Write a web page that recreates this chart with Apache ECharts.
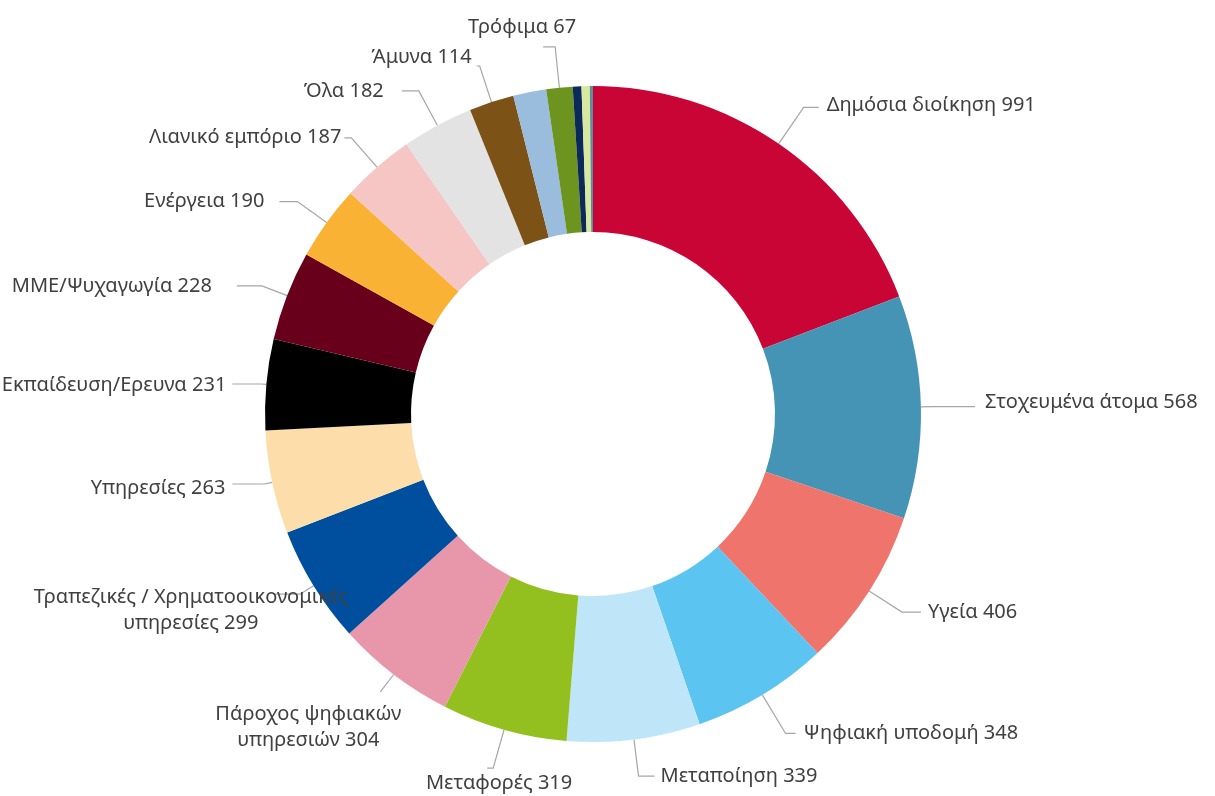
<!DOCTYPE html>
<html>
<head>
<meta charset="utf-8">
<title>Κατανομή ανά τομέα</title>
<script src="https://cdn.jsdelivr.net/npm/echarts@6/dist/echarts.min.js"></script>
<style>
  html, body { margin: 0; padding: 0; background: #ffffff; }
  #chart { width: 1215px; height: 796px; }
</style>
</head>
<body>
<div id="chart"></div>
<script>
// Sector names, clockwise from 12 o'clock. Empty names are the thin unlabelled slivers.
const categories = [
  'Δημόσια διοίκηση',
  'Στοχευμένα άτομα',
  'Υγεία',
  'Ψηφιακή υποδομή',
  'Μεταποίηση',
  'Μεταφορές',
  'Πάροχος ψηφιακών\nυπηρεσιών',
  'Τραπεζικές / Χρηματοοικονομικές\nυπηρεσίες',
  'Υπηρεσίες',
  'Εκπαίδευση/Ερευνα',
  'ΜΜΕ/Ψυχαγωγία',
  'Ενέργεια',
  'Λιανικό εμπόριο',
  'Όλα',
  'Άμυνα',
  '',
  'Τρόφιμα',
  '',
  '',
  ''
];

// Counts per sector
const values = [991, 568, 406, 348, 339, 319, 304, 299, 263, 231, 228, 190, 187, 182, 114, 84, 67, 22, 21, 8];

// Slice fill colours, same order as the categories
const palette = [
  '#C90535', '#4594B6', '#EE746C', '#5BC4F1', '#BEE6F8',
  '#93C01F', '#E897AB', '#004F9F', '#FDDEAA', '#000000',
  '#69001B', '#F9B233', '#F6C6C5', '#E3E3E3', '#7D5217',
  '#9ABCDD', '#6E9420', '#0B2A5A', '#D9E8A0', '#5A8E9A'
];

// Leader-line geometry per label: [length, length2, gap to text, text dx, text dy]
const leaderStyle = [
  [44, 15, 8, 0, -2],
  [10, 44, 10, 0, -4],
  [39, 19, 7, 0, 0],
  [45, 10, 8, 0, 0],
  [37, 16, 6, 0, 0],
  [40, 6, 5, 90, 15],
  [22, 0, 4, 25, 35],
  [16, 27, 5, 80, 16],
  [8, 32, 7, 0, 4],
  [5, 29, 6, 0, 1],
  [27, 25, 25, 0, 0],
  [36, 18, 15, 0, 0],
  [39, 7, 3, 0, 0],
  [39, 17, 18, 0, 0],
  [38, 3, 5, 0, -9],
  null,
  [41, 12, 5, 38, -20],
  null,
  null,
  null
];

const data = categories.map((name, i) => {
  const item = { name: name, value: values[i], itemStyle: { color: palette[i] } };
  const g = leaderStyle[i];
  if (!name || !g) {
    item.label = { show: false };
    item.labelLine = { show: false };
  } else {
    item.label = { distanceToLabelLine: g[2] };
    item.labelLine = { length: g[0], length2: g[1] };
  }
  return item;
});

const chart = echarts.init(document.getElementById('chart'), null, { renderer: 'canvas' });

chart.setOption({
  backgroundColor: '#ffffff',
  animation: false,
  series: [{
    type: 'pie',
    center: [593, 414],
    radius: [182, 328],
    startAngle: 90,
    clockwise: true,
    avoidLabelOverlap: false,
    itemStyle: { borderWidth: 0 },
    label: {
      show: true,
      color: '#404040',
      fontFamily: 'Noto Sans',
      fontSize: 20,
      lineHeight: 26,
      overflow: 'none',
      formatter: p => p.name.split('\n').map((line, k, arr) =>
        '{c|' + line + (k === arr.length - 1 ? ' ' + p.value : '') + '}').join('\n'),
      rich: {
        c: { align: 'center', color: '#404040', fontFamily: 'Noto Sans', fontSize: 20, lineHeight: 26 }
      }
    },
    labelLine: {
      show: true,
      smooth: false,
      lineStyle: { color: '#A6A6A6', width: 1.2 }
    },
    labelLayout: params => {
      const g = leaderStyle[params.dataIndex];
      if (!g || (!g[3] && !g[4])) return {};
      return { dx: g[3], dy: g[4] };
    },
    data: data
  }]
});
</script>
</body>
</html>
